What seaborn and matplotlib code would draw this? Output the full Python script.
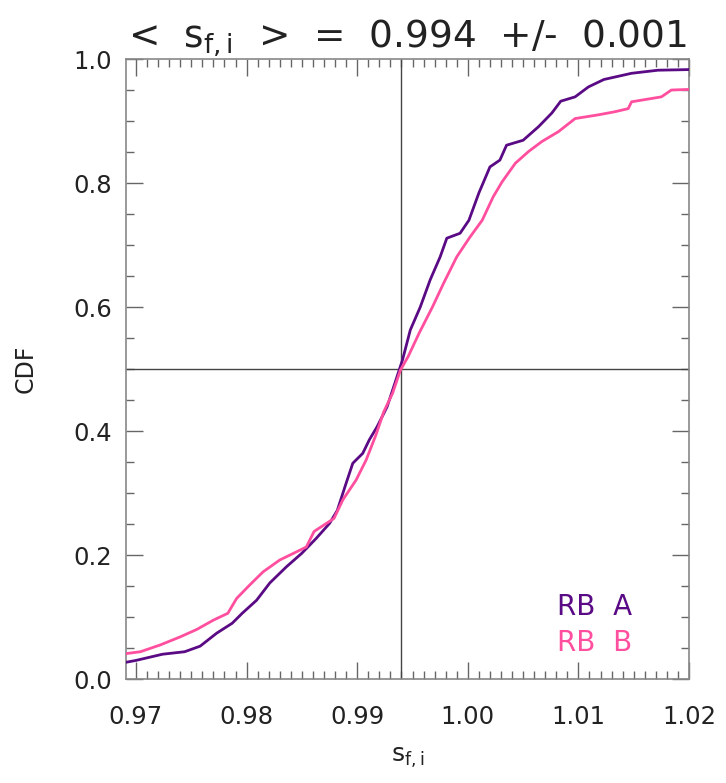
import numpy as np
import pandas as pd
import matplotlib
matplotlib.use("Agg")
import matplotlib.pyplot as plt
from matplotlib.ticker import MultipleLocator
import seaborn as sns

# DATA
rb_a_x = [0.9691, 0.9700, 0.9724, 0.9744, 0.9758, 0.9773, 0.9787, 0.9796, 0.9809,
          0.9821, 0.9836, 0.9850, 0.9863, 0.9875, 0.9882, 0.9890, 0.9896, 0.9905,
          0.9911, 0.9918, 0.9927, 0.9932, 0.9939, 0.9941, 0.9948, 0.9957, 0.9966,
          0.9975, 0.9981, 0.9993, 1.0001, 1.0010, 1.0020, 1.0029, 1.0035, 1.0050,
          1.0064, 1.0076, 1.0084, 1.0097, 1.0109, 1.0123, 1.0148, 1.0172, 1.0200]
rb_a_y = [0.027, 0.030, 0.040, 0.044, 0.053, 0.074, 0.090, 0.106, 0.127,
          0.155, 0.181, 0.203, 0.227, 0.251, 0.272, 0.316, 0.348, 0.364,
          0.386, 0.407, 0.439, 0.466, 0.504, 0.515, 0.563, 0.600, 0.644,
          0.681, 0.711, 0.719, 0.740, 0.784, 0.826, 0.837, 0.861, 0.869,
          0.891, 0.913, 0.932, 0.939, 0.955, 0.967, 0.977, 0.982, 0.983]

rb_b_x = [0.9691, 0.9704, 0.9722, 0.9740, 0.9755, 0.9770, 0.9783, 0.9791, 0.9803,
          0.9815, 0.9830, 0.9845, 0.9854, 0.9861, 0.9879, 0.9887, 0.9899, 0.9908,
          0.9917, 0.9924, 0.9932, 0.9939, 0.9946, 0.9956, 0.9968, 0.9978, 0.9990,
          1.0002, 1.0013, 1.0023, 1.0031, 1.0043, 1.0055, 1.0067, 1.0082, 1.0097,
          1.0118, 1.0133, 1.0145, 1.0148, 1.0175, 1.0184, 1.0200]
rb_b_y = [0.041, 0.044, 0.055, 0.068, 0.080, 0.095, 0.106, 0.130, 0.152,
          0.173, 0.192, 0.205, 0.213, 0.238, 0.259, 0.289, 0.321, 0.353,
          0.394, 0.431, 0.461, 0.498, 0.520, 0.558, 0.600, 0.638, 0.681,
          0.713, 0.740, 0.778, 0.802, 0.832, 0.851, 0.867, 0.883, 0.904,
          0.910, 0.915, 0.920, 0.931, 0.939, 0.950, 0.951]

mean_s = 0.994
err_s = 0.001
names = ["RB  A", "RB  B"]
colors = ["#5a0a84", "#ff4f9e"]

df = pd.concat([
    pd.DataFrame({"s": rb_a_x, "cdf": rb_a_y, "set": names[0]}),
    pd.DataFrame({"s": rb_b_x, "cdf": rb_b_y, "set": names[1]}),
])

# STYLING
sns.set_style("ticks")
plt.rcParams["font.family"] = ["DejaVu Sans"]
plt.rcParams["mathtext.default"] = "regular"

fig = plt.figure(figsize=(7.26, 7.83), dpi=100)
ax = fig.add_axes([0.1736, 0.1328, 0.7755, 0.7918])

sns.lineplot(data=df, x="s", y="cdf", hue="set", palette=colors, sort=False,
             estimator=None, linewidth=2.0, legend=False, ax=ax, zorder=3)

ax.axvline(mean_s, color="#444444", lw=1.0, zorder=2)
ax.axhline(0.5, color="#444444", lw=1.0, zorder=2)

ax.set_xlim(0.9691, 1.0200)
ax.set_ylim(0.0, 1.0)
ax.xaxis.set_major_locator(MultipleLocator(0.01))
ax.xaxis.set_minor_locator(MultipleLocator(0.001))
ax.yaxis.set_major_locator(MultipleLocator(0.2))
ax.yaxis.set_minor_locator(MultipleLocator(0.05))
ax.xaxis.set_major_formatter(plt.FormatStrFormatter("%.2f"))
ax.yaxis.set_major_formatter(plt.FormatStrFormatter("%.1f"))

ax.tick_params(which="both", direction="in", top=True, right=True,
               color="#666666", labelsize=17.5, labelcolor="#222222")
ax.tick_params(which="major", length=12, width=1.0)
ax.tick_params(which="minor", length=6, width=1.0)
ax.tick_params(axis="x", which="major", pad=19)
ax.tick_params(axis="y", which="major", pad=10)
for sp in ax.spines.values():
    sp.set_color("#888888")
    sp.set_linewidth(1.2)

ax.set_xlabel(r"s$_{f,i}$", fontsize=18, color="#222222", labelpad=12)
ax.set_ylabel("CDF", fontsize=17, color="#222222", labelpad=26)
ax.set_title(r"<  s$_{f,i}$  >  =  0.994  +/-  0.001", fontsize=27,
             color="#222222", pad=8)

ax.text(0.833, 0.116, names[0], transform=ax.transAxes, color=colors[0],
        fontsize=20, ha="center", va="center")
ax.text(0.833, 0.058, names[1], transform=ax.transAxes, color=colors[1],
        fontsize=20, ha="center", va="center")

fig.savefig("out.png", dpi=100)
